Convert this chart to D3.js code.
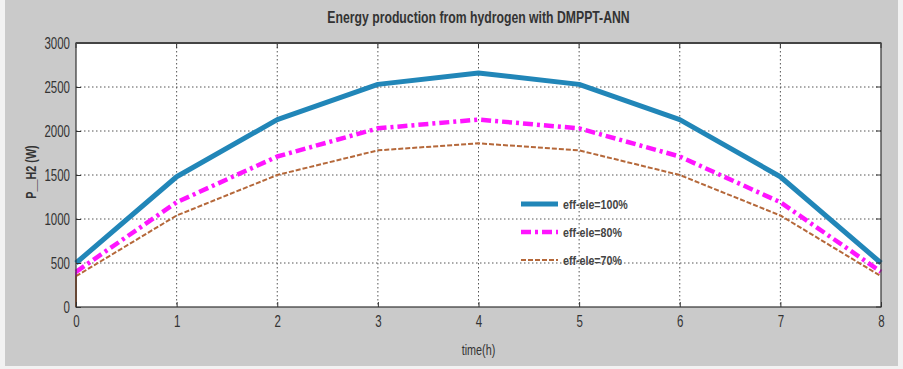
<!DOCTYPE html>
<html>
<head>
<meta charset="utf-8">
<script src="https://cdn.jsdelivr.net/npm/d3@7"></script>
<style>
  html, body { margin: 0; padding: 0; background: #f2f2f2; }
  svg text { font-family: "Liberation Sans Narrow", "Arial Narrow", "Liberation Sans", sans-serif; fill: #222; }
</style>
</head>
<body>
<svg id="chart" width="903" height="369"></svg>
<script>
// Hourly hydrogen power output for three electrolyser efficiencies
const hours = [0, 1, 2, 3, 4, 5, 6, 7, 8];
const seriesNames = ["eff-ele=100%", "eff-ele=80%", "eff-ele=70%"];
const eff100 = [500, 1480, 2130, 2530, 2660, 2530, 2130, 1480, 500];
const eff80  = [400, 1190, 1710, 2030, 2130, 2030, 1710, 1190, 400];
const eff70  = [350, 1040, 1500, 1780, 1860, 1780, 1500, 1040, 350];
const xTicks = [0, 1, 2, 3, 4, 5, 6, 7, 8];
const yTicks = [0, 500, 1000, 1500, 2000, 2500, 3000];

const svg = d3.select("#chart");
const W = 903, H = 369;
const plot = { left: 76, right: 881, top: 43, bottom: 307 };
const squeeze = 0.72; // horizontal condensing of the label face

// figure background
svg.append("rect").attr("x", 5).attr("y", 0).attr("width", W - 10).attr("height", H - 3)
  .attr("fill", "#cacaca");

const x = d3.scaleLinear().domain([0, 8]).range([plot.left, plot.right]);
const y = d3.scaleLinear().domain([0, 3000]).range([plot.bottom, plot.top]);

svg.append("rect")
  .attr("x", plot.left).attr("y", plot.top)
  .attr("width", plot.right - plot.left).attr("height", plot.bottom - plot.top)
  .attr("fill", "#ffffff");

// dotted grid
const grid = svg.append("g");
grid.selectAll("line.v").data(xTicks.slice(1, -1)).join("line")
  .attr("x1", d => x(d)).attr("x2", d => x(d))
  .attr("y1", plot.top).attr("y2", plot.bottom)
  .attr("stroke", "#555").attr("stroke-width", 1).attr("stroke-dasharray", "1.5,2.5");
grid.selectAll("line.h").data(yTicks.slice(1, -1)).join("line")
  .attr("y1", d => y(d)).attr("y2", d => y(d))
  .attr("x1", plot.left).attr("x2", plot.right)
  .attr("stroke", "#555").attr("stroke-width", 1).attr("stroke-dasharray", "1.5,2.5");

// series
const line = d3.line().x((d, i) => x(hours[i])).y(d => y(d));
const series = [
  { name: seriesNames[0], values: eff100, color: "#2186b8", width: 5, dash: null },
  { name: seriesNames[1], values: eff80, color: "#ff14ff", width: 4.5, dash: "10,4,3,4" },
  { name: seriesNames[2], values: eff70, color: "#b5683a", width: 2, dash: "5,2" }
];

// start-up segment from zero at t=0 for the lower-efficiency runs
[eff80, eff70].forEach((vals, k) => {
  svg.append("line")
    .attr("x1", x(hours[0])).attr("x2", x(hours[0]))
    .attr("y1", y(0)).attr("y2", y(vals[0]))
    .attr("stroke", k === 0 ? "#ff14ff" : "#b5683a").attr("stroke-width", 2);
});

series.forEach(s => {
  svg.append("path")
    .attr("d", line(s.values))
    .attr("fill", "none")
    .attr("stroke", s.color)
    .attr("stroke-width", s.width)
    .attr("stroke-linejoin", "round")
    .attr("stroke-dasharray", s.dash);
});

// axes
const xAxis = d3.axisBottom(x).tickValues(xTicks).tickSize(-5).tickPadding(9).tickFormat(d3.format("d"));
const yAxis = d3.axisLeft(y).tickValues(yTicks).tickSize(-5).tickPadding(6).tickFormat(d3.format("d"));
const gx = svg.append("g").attr("transform", `translate(0,${plot.bottom})`).call(xAxis);
const gy = svg.append("g").attr("transform", `translate(${plot.left},0)`).call(yAxis);
[gx, gy].forEach(g => {
  g.select(".domain").remove();
  g.selectAll(".tick line").attr("stroke", "#333");
  g.selectAll(".tick text").attr("font-size", 16).style("fill", "#333")
    .attr("font-family", "'Liberation Sans Narrow', 'Liberation Sans', sans-serif");
});
gx.selectAll(".tick text").attr("transform", `scale(${squeeze},1)`);
gy.selectAll(".tick text").attr("x", -6 / squeeze).attr("transform", `scale(${squeeze},1)`);

// top / right ticks
svg.append("g").selectAll("line").data(xTicks).join("line")
  .attr("x1", d => x(d)).attr("x2", d => x(d))
  .attr("y1", plot.top).attr("y2", plot.top + 5).attr("stroke", "#333");
svg.append("g").selectAll("line").data(yTicks).join("line")
  .attr("x1", plot.right - 5).attr("x2", plot.right)
  .attr("y1", d => y(d)).attr("y2", d => y(d)).attr("stroke", "#333");

// frame
svg.append("rect")
  .attr("x", plot.left).attr("y", plot.top)
  .attr("width", plot.right - plot.left).attr("height", plot.bottom - plot.top)
  .attr("fill", "none").attr("stroke", "#333").attr("stroke-width", 1.2);
svg.append("line").attr("x1", plot.left).attr("x2", plot.right)
  .attr("y1", plot.top).attr("y2", plot.top).attr("stroke", "#444").attr("stroke-width", 2);

// titles (condensed)
function condensedText(cx, cy, size, weight, str, rot) {
  const g = svg.append("g").attr("transform", `translate(${cx},${cy})${rot ? " rotate(" + rot + ")" : ""} scale(${squeeze},1)`);
  g.append("text").attr("text-anchor", "middle").attr("font-size", size)
    .attr("font-weight", weight).style("fill", "#333").text(str);
}
condensedText((plot.left + plot.right) / 2 + 0, 23, 17, "bold", "Energy production from hydrogen with DMPPT-ANN");
condensedText((plot.left + plot.right) / 2, 355, 15, "normal", "time(h)");
condensedText(36, (plot.top + plot.bottom) / 2 - 3, 15, "bold", "P__H2 (W)", -90);

// legend
const legend = svg.append("g").attr("transform", "translate(521,204)");
series.forEach((s, i) => {
  const row = legend.append("g").attr("transform", `translate(0,${i * 28})`);
  row.append("line").attr("x1", 0).attr("x2", 37).attr("y1", 0).attr("y2", 0)
    .attr("stroke", s.color).attr("stroke-width", s.width).attr("stroke-dasharray", s.dash);
  row.append("g").attr("transform", `translate(42,5) scale(0.82,1)`)
    .append("text").attr("font-size", 13).attr("font-weight", "bold")
    .style("fill", "#444").text(s.name);
});
</script>
</body>
</html>
